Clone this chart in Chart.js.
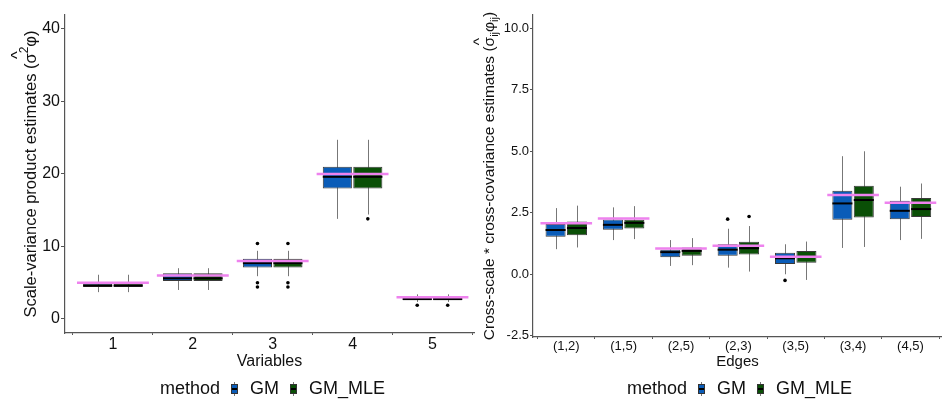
<!DOCTYPE html>
<html>
<head>
<meta charset="utf-8">
<script src="https://cdn.jsdelivr.net/npm/chart.js@4.4.1/dist/chart.umd.min.js"></script>
<style>
  body { margin: 0; background: #fff; width: 942px; height: 402px; position: relative; overflow: hidden; }
  canvas { position: absolute; top: 0; }
  #left { left: 0; }
  #right { left: 470px; }
  .legend { position: absolute; top: 377px; font: 18px "Liberation Sans", Arial, sans-serif; color: #111; white-space: nowrap; line-height: 22px; }
  .key { display: inline-block; position: relative; width: 7px; height: 14px; vertical-align: -2px; margin: 0 12px 0 11px; }
  .key i { position: absolute; left: 3px; top: 0; width: 1px; height: 14px; background: #777; }
  .key b { position: absolute; left: 0; top: 2px; width: 5px; height: 8px; border: 1px solid #333; }
  .key b::after { content: ""; position: absolute; left: 0; right: 0; top: 3px; height: 2px; background: #000; }
</style>
</head>
<body>
<canvas id="left" width="476" height="402"></canvas>
<canvas id="right" width="472" height="402"></canvas>
<div id="legLeft" class="legend" style="left:160px"></div>
<div id="legRight" class="legend" style="left:627px"></div>
<script>
// series names / colours
const seriesNames = ['GM', 'GM_MLE'];
const seriesColors = ['#0a5cb8', '#0a4f06'];
const trueColor = '#ee82ee';

// ---- left panel: variables ----
const varLabels = ['1', '2', '3', '4', '5'];
const varTicks = [0, 10, 20, 30, 40];
const varTrue = [5.0, 6.0, 8.0, 20.0, 3.0];

const varGmQ1 = [4.4, 5.25, 7.1, 18.0, 2.6];
const varGmQ3 = [4.85, 6.3, 8.3, 21.0, 2.95];
const varGmMed = [4.6, 5.6, 7.7, 19.6, 2.75];
const varGmLow = [3.7, 4.0, 5.9, 13.8, 2.35];
const varGmHigh = [6.1, 7.0, 9.4, 24.7, 3.4];
const varGmOut = [[], [], [10.4, 5.0, 4.4], [], [1.9]];

const varMleQ1 = [4.4, 5.25, 7.1, 18.0, 2.6];
const varMleQ3 = [4.85, 6.3, 8.3, 21.0, 2.95];
const varMleMed = [4.6, 5.6, 7.7, 19.6, 2.75];
const varMleLow = [3.7, 4.0, 5.9, 14.4, 2.35];
const varMleHigh = [6.1, 7.0, 9.4, 24.7, 3.4];
const varMleOut = [[], [], [10.4, 5.0, 4.4], [13.8], [1.9]];

// ---- right panel: edges ----
const edgeLabels = ['(1,2)', '(1,5)', '(2,5)', '(2,3)', '(3,5)', '(3,4)', '(4,5)'];
const edgeTicks = [-2.5, 0, 2.5, 5, 7.5, 10];
const edgeTrue = [2.07, 2.27, 1.05, 1.16, 0.71, 3.22, 2.91];

const edgeGmQ1 = [1.53, 1.81, 0.69, 0.75, 0.42, 2.22, 2.24];
const edgeGmQ3 = [2.04, 2.23, 1.0, 1.22, 0.88, 3.40, 2.99];
const edgeGmMed = [1.80, 2.01, 0.90, 1.0, 0.65, 2.88, 2.58];
const edgeGmLow = [1.02, 1.39, 0.34, 0.27, 0.0, 1.07, 1.39];
const edgeGmHigh = [2.69, 2.72, 1.39, 1.85, 1.22, 4.80, 3.56];
const edgeGmOut = [[], [], [], [2.24], [-0.25], [], []];

const edgeMleQ1 = [1.59, 1.86, 0.75, 0.8, 0.47, 2.31, 2.33];
const edgeMleQ3 = [2.15, 2.22, 1.09, 1.32, 0.95, 3.6, 3.1];
const edgeMleMed = [1.88, 2.09, 0.95, 1.06, 0.71, 3.02, 2.65];
const edgeMleLow = [1.09, 1.43, 0.37, 0.11, -0.23, 1.11, 1.44];
const edgeMleHigh = [2.79, 2.77, 1.47, 1.96, 1.33, 5.0, 3.69];
const edgeMleOut = [[], [], [], [2.35], [], [], []];

// axis titles with plotmath-like pieces (hat, super/subscripts)
const varTitle = [
  { t: 'Scale-variance product estimates (' },
  { t: '\u03C3', hat: true }, { t: '2', sup: true, hat: true },
  { t: '\u03C6' }, { t: ')' }
];
const edgeTitle = [
  { t: 'Cross-scale * cross-covariance estimates (' },
  { t: '\u03C3', hat: true }, { t: 'ij', sub: true },
  { t: '\u03C6' }, { t: 'ij', sub: true }, { t: ')' }
];

const FONT = '"Liberation Sans", Arial, sans-serif';

// whiskers behind the boxes, medians / outliers / true values on top
const boxPlot = {
  id: 'boxPlot',
  beforeDatasetsDraw(chart) {
    const ctx = chart.ctx, y = chart.scales.y;
    ctx.save();
    ctx.strokeStyle = '#777';
    ctx.lineWidth = 1;
    chart.data.datasets.forEach((ds, di) => {
      chart.getDatasetMeta(di).data.forEach((bar, i) => {
        const x = Math.round(bar.x) + 0.5;
        ctx.beginPath();
        ctx.moveTo(x, y.getPixelForValue(ds.stats.low[i]));
        ctx.lineTo(x, y.getPixelForValue(ds.stats.high[i]));
        ctx.stroke();
      });
    });
    ctx.restore();
  },
  afterDatasetsDraw(chart, args, opts) {
    const ctx = chart.ctx, y = chart.scales.y, xs = chart.scales.x;
    ctx.save();
    chart.data.datasets.forEach((ds, di) => {
      chart.getDatasetMeta(di).data.forEach((bar, i) => {
        const half = bar.width / 2;
        const my = y.getPixelForValue(ds.stats.med[i]);
        ctx.strokeStyle = '#000';
        ctx.lineWidth = 2;
        ctx.beginPath();
        ctx.moveTo(bar.x - half, my);
        ctx.lineTo(bar.x + half, my);
        ctx.stroke();
        ctx.fillStyle = '#000';
        ds.stats.out[i].forEach(v => {
          ctx.beginPath();
          ctx.arc(bar.x, y.getPixelForValue(v), 1.8, 0, Math.PI * 2);
          ctx.fill();
        });
      });
    });
    const step = xs.getPixelForValue(2) - xs.getPixelForValue(1);
    ctx.strokeStyle = trueColor;
    ctx.lineWidth = 2.5;
    opts.trueVals.forEach((v, i) => {
      const cx = xs.getPixelForValue(i + 1), ty = y.getPixelForValue(v);
      ctx.beginPath();
      ctx.moveTo(cx - step * 0.45, ty);
      ctx.lineTo(cx + step * 0.45, ty);
      ctx.stroke();
    });
    ctx.restore();
  }
};

// rotated y title drawn piece by piece
const mathTitle = {
  id: 'mathTitle',
  afterDraw(chart, args, opts) {
    const ctx = chart.ctx, size = opts.size;
    const fontFor = p => ((p.sup || p.sub) ? Math.round(size * 0.7) : size) + 'px ' + FONT;
    let total = 0;
    const widths = opts.parts.map(p => { ctx.font = fontFor(p); const w = ctx.measureText(p.t).width; total += w; return w; });
    const cy = (chart.chartArea.top + chart.chartArea.bottom) / 2;
    ctx.save();
    ctx.translate(opts.x, cy);
    ctx.rotate(-Math.PI / 2);
    ctx.fillStyle = '#111';
    ctx.textBaseline = 'middle';
    ctx.textAlign = 'left';
    let pos = -total / 2, hatStart = null, hatEnd = null;
    opts.parts.forEach((p, i) => {
      ctx.font = fontFor(p);
      const dy = p.sup ? -size * 0.38 : p.sub ? size * 0.3 : 0;
      ctx.fillText(p.t, pos, dy);
      if (p.hat) { if (hatStart === null) hatStart = pos; hatEnd = pos + widths[i]; }
      pos += widths[i];
    });
    if (hatStart !== null) {
      ctx.font = size + 'px ' + FONT;
      ctx.textAlign = 'center';
      ctx.fillText('^', (hatStart + hatEnd) / 2, -size * opts.hatLift);
    }
    ctx.restore();
  }
};

function makeDataset(k, q1, q3, med, low, high, out) {
  return {
    label: seriesNames[k],
    data: q1.map((v, i) => ({ x: i + 1, y: [v, q3[i]] })),
    backgroundColor: seriesColors[k],
    borderColor: '#3a3a3a',
    borderWidth: 1,
    borderSkipped: false,
    stats: { med, low, high, out }
  };
}

function makePanel(id, p) {
  return new Chart(document.getElementById(id), {
    type: 'bar',
    data: { datasets: p.datasets },
    plugins: [boxPlot, mathTitle],
    options: {
      responsive: false,
      animation: false,
      events: [],
      categoryPercentage: p.catPct,
      barPercentage: p.barPct,
      layout: { padding: { left: 0, right: p.padRight, top: 15, bottom: p.padBottom } },
      plugins: {
        legend: { display: false },
        tooltip: { enabled: false },
        boxPlot: { trueVals: p.trueVals },
        mathTitle: { parts: p.yTitle, size: p.yTitleSize, x: p.yTitleX, hatLift: p.hatLift }
      },
      scales: {
        x: {
          type: 'linear',
          offset: false,
          min: p.xMin,
          max: p.xMax,
          afterFit: s => { s.height = p.xHeight; },
          afterBuildTicks: s => { s.ticks = p.labels.map((_, i) => ({ value: i + 1 })); },
          grid: { display: true, drawOnChartArea: false, tickLength: 2, color: '#555' },
          border: { color: '#555', width: 1.2 },
          ticks: { color: '#111', font: { family: FONT, size: p.xTickSize }, padding: 0, maxRotation: 0, autoSkip: false,
                   callback: v => p.labels[v - 1] },
          title: { display: true, text: p.xTitle, color: '#111', font: { family: FONT, size: p.xTitleSize }, padding: 0 }
        },
        y: {
          min: p.yMin,
          max: p.yMax,
          afterFit: s => { s.width = p.yWidth; },
          afterBuildTicks: s => { s.ticks = p.yTicks.map(v => ({ value: v })); },
          grid: { display: true, drawOnChartArea: false, tickLength: p.yTickLen, color: '#555' },
          border: { color: '#555', width: 1.2 },
          ticks: { color: '#111', font: { family: FONT, size: p.yTickSize }, padding: 1, callback: p.yFmt },
          title: { display: false }
        }
      }
    }
  });
}

makePanel('left', {
  labels: varLabels,
  datasets: [
    makeDataset(0, varGmQ1, varGmQ3, varGmMed, varGmLow, varGmHigh, varGmOut),
    makeDataset(1, varMleQ1, varMleQ3, varMleMed, varMleLow, varMleHigh, varMleOut)
  ],
  trueVals: varTrue,
  xMin: 0.4, xMax: 5.52,
  catPct: 0.763, barPct: 0.955,
  padRight: 2, padBottom: 31, xHeight: 38, yWidth: 65,
  yMin: -1.93, yMax: 41.9, yTicks: varTicks, yTickLen: 4,
  yFmt: v => String(v),
  xTitle: 'Variables', xTitleSize: 16, xTickSize: 16, yTickSize: 16,
  yTitle: varTitle, yTitleSize: 16.5, yTitleX: 31, hatLift: 0.78
});

makePanel('right', {
  labels: edgeLabels,
  datasets: [
    makeDataset(0, edgeGmQ1, edgeGmQ3, edgeGmMed, edgeGmLow, edgeGmHigh, edgeGmOut),
    makeDataset(1, edgeMleQ1, edgeMleQ3, edgeMleMed, edgeMleLow, edgeMleHigh, edgeMleOut)
  ],
  trueVals: edgeTrue,
  xMin: 0.42, xMax: 7.55,
  catPct: 0.746, barPct: 0.937,
  padRight: 0, padBottom: 31, xHeight: 34, yWidth: 63,
  yMin: -2.55, yMax: 10.54, yTicks: edgeTicks, yTickLen: 3,
  yFmt: v => v.toFixed(1),
  xTitle: 'Edges', xTitleSize: 15, xTickSize: 13, yTickSize: 13,
  yTitle: edgeTitle, yTitleSize: 15.5, yTitleX: 20, hatLift: 0.68
});

// legends (ggplot style: title + boxplot keys)
function buildLegend(id) {
  const el = document.getElementById(id);
  let html = 'method';
  seriesNames.forEach((name, k) => {
    html += '<span class="key"><i></i><b style="background:' + seriesColors[k] + '"></b></span>' + name;
  });
  el.innerHTML = html;
}
buildLegend('legLeft');
buildLegend('legRight');
</script>
</body>
</html>
